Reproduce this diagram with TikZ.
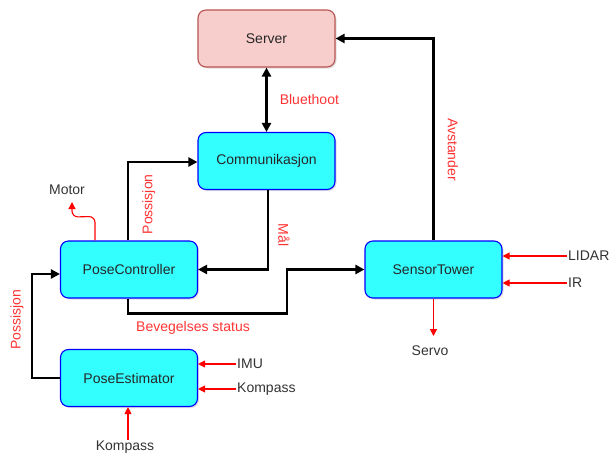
\documentclass[tikz,border=0pt]{standalone}
\usepackage{fontspec}
\setmainfont{Liberation Sans}
\usetikzlibrary{arrows.meta,shadows}
\definecolor{boxcyan}{HTML}{33FFFF}
\definecolor{boxblue}{HTML}{0000FF}
\definecolor{srvfill}{HTML}{F8CECC}
\definecolor{srvdraw}{HTML}{B85450}
\definecolor{lblred}{HTML}{FF3333}

\begin{document}
\begin{tikzpicture}[x=1pt, y=-1pt,
  font=\fontsize{14}{16}\selectfont,
  box/.style={draw=boxblue, fill=boxcyan, rounded corners=8pt, line width=1.1pt,
    minimum width=137pt, minimum height=57pt, align=center, text=black!85,
    drop shadow={shadow xshift=1.5pt, shadow yshift=-1.5pt, opacity=0.25}},
  srvbox/.style={box, draw=srvdraw, fill=srvfill},
  link/.style={line width=2.6pt, -{Triangle[length=9pt,width=9pt]}},
  sig/.style={draw=red, line width=1.1pt, -{Triangle[length=7pt,width=7pt]}},
  lbl/.style={text=lblred, inner sep=1pt},
  ext/.style={text=black!80, inner sep=1pt}]
\useasboundingbox (0,0) rectangle (613,455);
% blocks
\node[srvbox] (server) at (266.5,38.5) {Server};
\node[box] (comm) at (266.5,161) {Communikasjon};
\node[box] (posectl) at (129,269.5) {PoseController};
\node[box] (sensor) at (433.5,269.5) {SensorTower};
\node[box] (poseest) at (129,378) {PoseEstimator};
% outside signals
\node[ext] (motor) at (67,190) {Motor};
\node[ext, anchor=west] (lidar) at (567,256) {LIDAR};
\node[ext, anchor=west] (ir) at (567,283) {IR};
\node[ext] (servo) at (430,351) {Servo};
\node[ext, anchor=west] (imu) at (236,364) {IMU};
\node[ext, anchor=west] (kompr) at (236,389) {Kompass};
\node[ext] (kompb) at (125,447) {Kompass};
% data links
\draw[line width=2.6pt, {Triangle[length=9pt,width=9pt]}-{Triangle[length=9pt,width=9pt]}]
  (server.south) -- (comm.north) node[midway, right=11pt, lbl]{Bluethoot};
\draw[link] (sensor.north) |- (server.east)
  node[pos=0.225, right=12pt, lbl, rotate=-90, anchor=south]{Avstander};
\draw[link] ([xshift=-1pt]posectl.north) |- ([yshift=-1pt]comm.west)
  node[pos=0.23, right=12pt, lbl, rotate=90, anchor=north]{Possisjon};
\draw[link] ([xshift=1.5pt]comm.south) |- (posectl.east)
  node[pos=0.283, right=8pt, lbl, rotate=-90, anchor=south]{Mål};
\draw[link] ([xshift=-1pt]posectl.south) -- ++(0,15) -| (287,269.5) -- (sensor.west);
\node[lbl] (bevstat) at (193,328) {Bevegelses status};
\draw[link] (poseest.west) -- (32,378) |- ([yshift=-4.5pt]posectl.west);
\node[lbl, rotate=90] (possest) at (17,320) {Possisjon};
% sensor and actuator signals
\draw[sig, rounded corners=6pt] ([xshift=-34pt]posectl.north) -- ++(0,-24) -- (72,217) -- (72,202);
\draw[sig] (lidar.west) -- (lidar.west -| sensor.east);
\draw[sig] (ir.west) -- (ir.west -| sensor.east);
\draw[sig] (sensor.south) -- (433.5,336);
\draw[sig] (imu.west) -- (imu.west -| poseest.east);
\draw[sig] (kompr.west) -- (kompr.west -| poseest.east);
\draw[sig] ([xshift=3pt]kompb.north) -- ([xshift=-1pt]poseest.south);
\end{tikzpicture}
\end{document}
